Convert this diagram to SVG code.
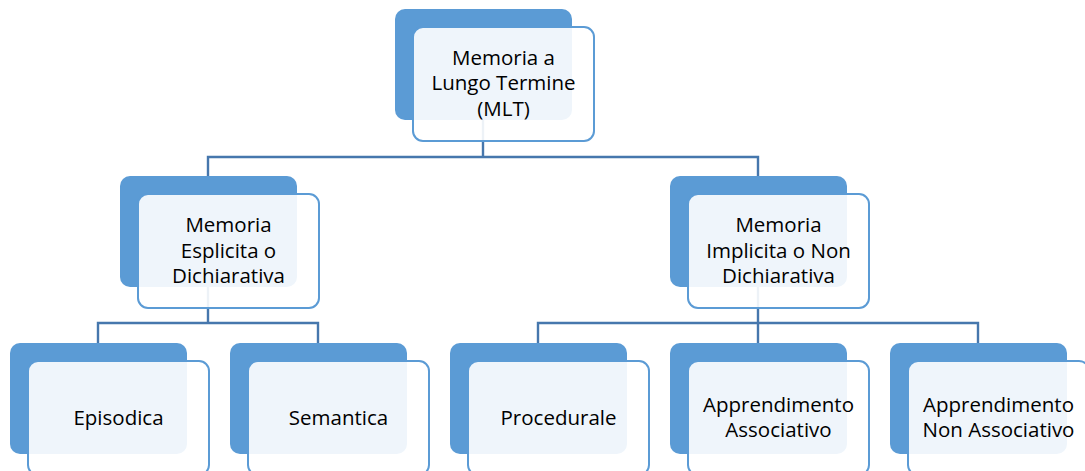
<svg xmlns="http://www.w3.org/2000/svg" width="1085" height="471" viewBox="0 0 1085 471">
<style>
.back{fill:#5B9BD5}
.front{fill:#FFFFFF;fill-opacity:0.9;stroke:#5B9BD5;stroke-width:2}
.conn{fill:none;stroke:#4677AD;stroke-width:2.4}
text{font-family:"Open Sans","Liberation Sans",sans-serif;font-size:20.5px;fill:#000;text-anchor:middle}
</style>
<rect width="1085" height="471" fill="#FFFFFF"/>
<g id="connectors">
<path class="conn" d="M208 176 V157 H758 V176 M483 120 V157"/>
<path class="conn" d="M98 343 V323 H318 V343 M208 287 V323"/>
<path class="conn" d="M538 343 V323 H978 V343 M758 287 V343"/>
</g>
<g id="mlt">
<rect class="back" x="395" y="9" width="177" height="111" rx="10"/>
<rect class="front" x="413" y="27" width="181" height="114" rx="10"/>
<text x="503.5" y="64.5">Memoria a</text>
<text x="503.5" y="90">Lungo Termine</text>
<text x="503.5" y="115.5">(MLT)</text>
</g>
<g id="esplicita">
<rect class="back" x="120" y="176" width="177" height="111" rx="10"/>
<rect class="front" x="138" y="194" width="181" height="114" rx="10"/>
<text x="228.5" y="232">Memoria</text>
<text x="228.5" y="257.5">Esplicita o</text>
<text x="228.5" y="283">Dichiarativa</text>
</g>
<g id="implicita">
<rect class="back" x="670" y="176" width="177" height="111" rx="10"/>
<rect class="front" x="688" y="194" width="181" height="114" rx="10"/>
<text x="778.5" y="232">Memoria</text>
<text x="778.5" y="257.5">Implicita o Non</text>
<text x="778.5" y="283">Dichiarativa</text>
</g>
<g id="episodica">
<rect class="back" x="10" y="343" width="177" height="111" rx="10"/>
<rect class="front" x="28" y="361" width="181" height="114" rx="10"/>
<text x="118.5" y="424.5">Episodica</text>
</g>
<g id="semantica">
<rect class="back" x="230" y="343" width="177" height="111" rx="10"/>
<rect class="front" x="248" y="361" width="181" height="114" rx="10"/>
<text x="338.5" y="424.5">Semantica</text>
</g>
<g id="procedurale">
<rect class="back" x="450" y="343" width="177" height="111" rx="10"/>
<rect class="front" x="468" y="361" width="181" height="114" rx="10"/>
<text x="558.5" y="424.5">Procedurale</text>
</g>
<g id="associativo">
<rect class="back" x="670" y="343" width="177" height="111" rx="10"/>
<rect class="front" x="688" y="361" width="181" height="114" rx="10"/>
<text x="778.5" y="411.5">Apprendimento</text>
<text x="778.5" y="437">Associativo</text>
</g>
<g id="non-associativo">
<rect class="back" x="890" y="343" width="177" height="111" rx="10"/>
<rect class="front" x="908" y="361" width="181" height="114" rx="10"/>
<text x="998.5" y="411.5">Apprendimento</text>
<text x="998.5" y="437">Non Associativo</text>
</g>
</svg>
